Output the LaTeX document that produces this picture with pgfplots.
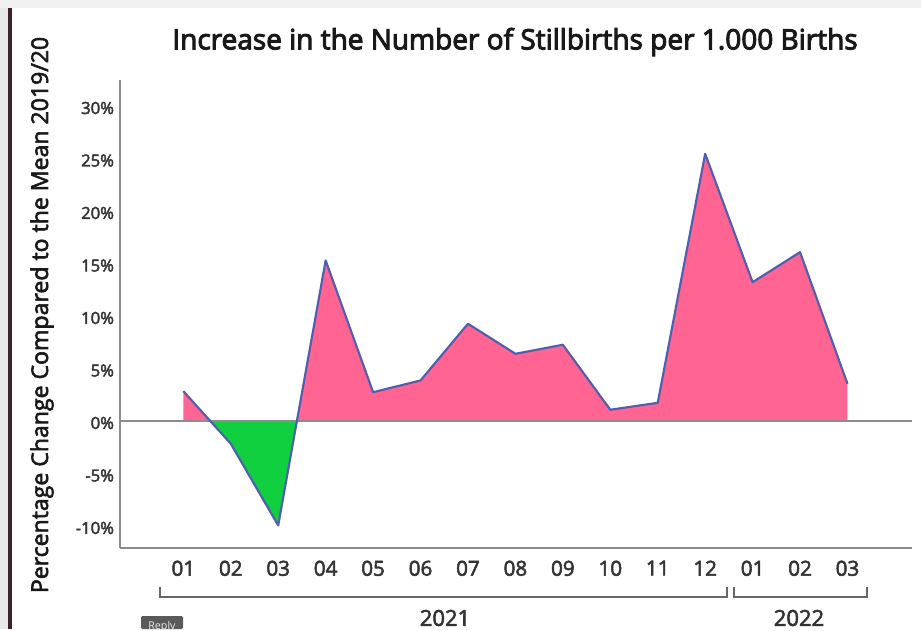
\documentclass[border=0pt]{standalone}
\usepackage{pgfplots}
\pgfplotsset{compat=1.18}
\usepgfplotslibrary{fillbetween}
\usepackage{fontspec}
\setmainfont{Open Sans}
\newfontfamily\semib{Open Sans}[FakeBold=3.5]
\newfontfamily\medf{Open Sans}[FakeBold=2.6]
\definecolor{pinkc}{HTML}{FF6493}
\definecolor{greenc}{HTML}{10D040}
\definecolor{linec}{HTML}{4F5FAE}
\definecolor{axc}{HTML}{8C8C8C}
\definecolor{txt}{HTML}{333333}
\definecolor{edgec}{HTML}{3D2028}
\definecolor{btnc}{HTML}{5A5A5A}
\pgfplotstableread{
x y
1 2.84
2 -2.17
3 -9.95
4 15.29
5 2.74
6 3.86
7 9.26
8 6.40
9 7.26
10 1.07
11 1.73
12 25.45
13 13.22
14 16.08
15 3.54
}\datatable
\begin{document}
\begin{tikzpicture}
\begin{scope}[x=0.75pt,y=0.75pt]
\path (0,0) rectangle (921,629);
\fill[gray!12] (0,621) rectangle (921,629);
\fill[gray!18] (0,0) rectangle (8,621);
\fill[edgec] (8,0) rectangle (12,621);
\end{scope}
\begin{axis}[
  at={(90pt,60.75pt)}, anchor=south west,
  scale only axis, width=594pt, height=351pt,
  xmin=-0.335, xmax=16.36, ymin=-12.1, ymax=32.48,
  axis lines=left, axis line style={axc, line width=1.2pt, -},
  major tick length=0pt,
  xtick={1,...,15},
  xticklabels={01,02,03,04,05,06,07,08,09,10,11,12,01,02,03},
  ytick={-10,-5,0,5,10,15,20,25,30},
  yticklabels={-10\%,-5\%,0\%,5\%,10\%,15\%,20\%,25\%,30\%},
  xticklabel style={font=\medf\fontsize{15.5}{18}\selectfont, text=txt, yshift=-6pt},
  yticklabel style={font=\medf\fontsize{12.5}{14}\selectfont, text=txt, xshift=-1pt, yshift=-1.5pt},
  /pgf/number format/assume math mode=true,
]
\addplot[name path=data, draw=none] table[x=x,y=y] {\datatable};
\addplot[name path=zero, draw=none] coordinates {(1,0) (15,0)};
\addplot[fill=pinkc, draw=none] fill between[of=data and zero, split,
   every segment no 1/.style={fill=greenc}];
\addplot[axc, line width=1.2pt] coordinates {(-0.335,0) (16.36,0)};
\addplot[linec, line width=1.6pt, line join=round] table[x=x,y=y] {\datatable};
\end{axis}
\begin{scope}[x=0.75pt,y=0.75pt]
\node[text=black!90, font=\semib\fontsize{21}{24}\selectfont] at (515,587) {Increase in the Number of Stillbirths per 1.000 Births};
\node[rotate=90, text=black!90, font=\medf\fontsize{17.3}{20}\selectfont] at (42,314) {Percentage Change Compared to the Mean 2019/20};
\draw[gray!80!black, line width=1.4pt] (160,42) -- (160,32) -- (727,32) -- (727,42);
\draw[gray!80!black, line width=1.4pt] (734,42) -- (734,32) -- (867,32) -- (867,42);
\node[text=txt, font=\medf\fontsize{16.5}{19}\selectfont] at (445,11) {2021};
\node[text=txt, font=\medf\fontsize{16.5}{19}\selectfont] at (799,11) {2022};
\fill[btnc, rounded corners=1pt] (141,0) rectangle (183,13);
\begin{scope}
\clip (141,0) rectangle (183,13);
\node[text=white!85!gray, font=\fontsize{8}{9}\selectfont, anchor=north] at (162,12.5) {Reply};
\end{scope}
\end{scope}
\end{tikzpicture}
\end{document}
